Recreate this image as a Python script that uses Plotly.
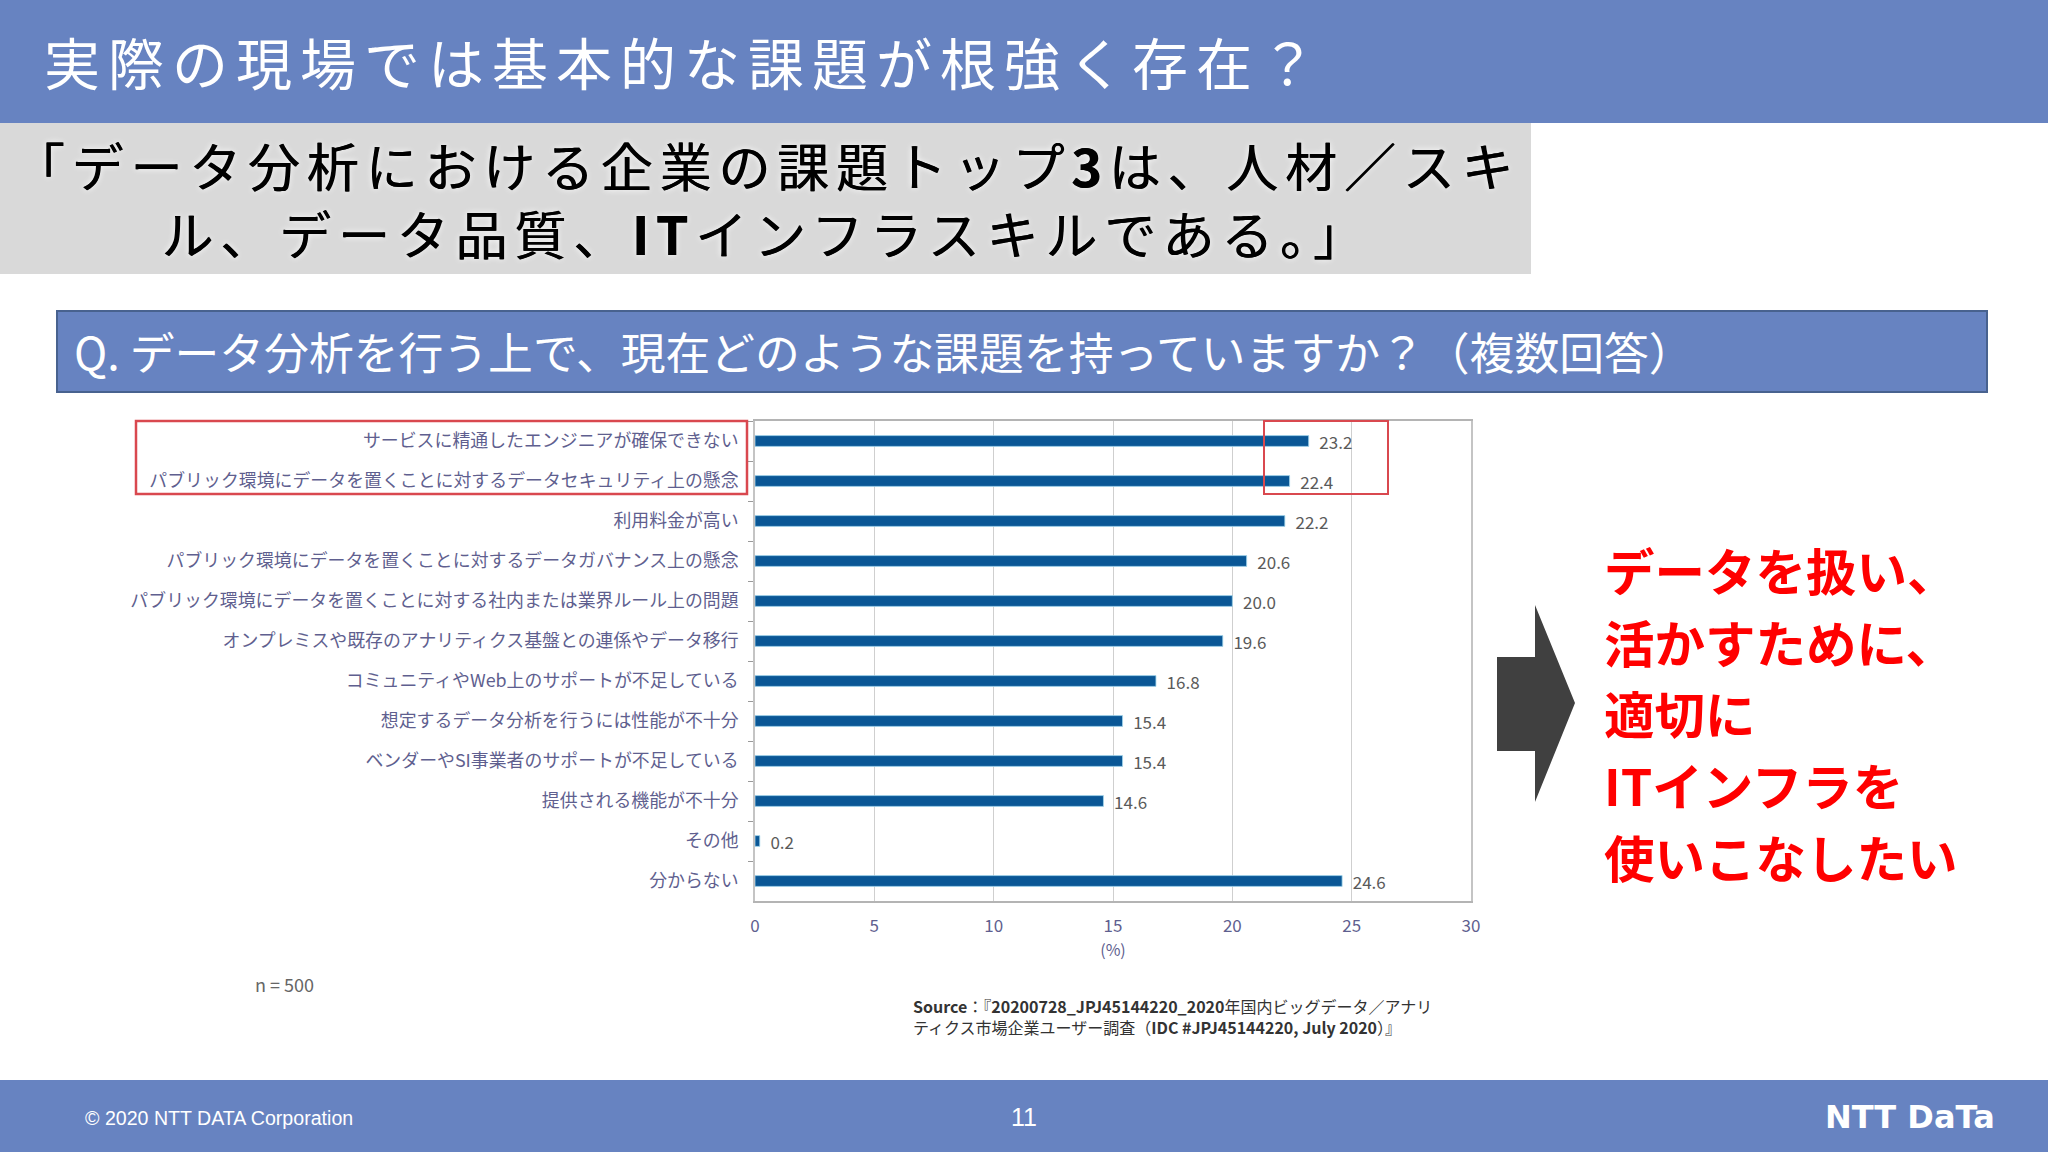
import plotly.graph_objects as go

W = 2048
H = 1152
JP = "Noto Sans CJK JP"

categories = [
    "サービスに精通したエンジニアが確保できない",
    "パブリック環境にデータを置くことに対するデータセキュリティ上の懸念",
    "利用料金が高い",
    "パブリック環境にデータを置くことに対するデータガバナンス上の懸念",
    "パブリック環境にデータを置くことに対する社内または業界ルール上の問題",
    "オンプレミスや既存のアナリティクス基盤との連係やデータ移行",
    "コミュニティやWeb上のサポートが不足している",
    "想定するデータ分析を行うには性能が不十分",
    "ベンダーやSI事業者のサポートが不足している",
    "提供される機能が不十分",
    "その他",
    "分からない",
]
values = [23.2, 22.4, 22.2, 20.6, 20.0, 19.6, 16.8, 15.4, 15.4, 14.6, 0.2, 24.6]
x_ticks = [0, 5, 10, 15, 20, 25, 30]

header_text = "実際の現場では基本的な課題が根強く存在？"
quote_lines = [
    "「データ分析における企業の課題トップ<b>3</b>は、人材／スキ",
    "ル、データ品質、<b>IT</b>インフラスキルである。」",
]
question_text = "Q. データ分析を行う上で、現在どのような課題を持っていますか？（複数回答）"
red_lines = ["データを扱い、", "活かすために、", "適切に", "ITインフラを", "使いこなしたい"]
source_lines = [
    "<b>Source</b>：『<b>20200728_JPJ45144220_2020</b>年国内ビッグデータ／アナリ",
    "ティクス市場企業ユーザー調査（<b>IDC #JPJ45144220, July 2020</b>）』",
]


def px_x(x):
    return x / W


def px_y(y):
    return 1 - y / H


def box(x0, y0, x1, y1, fill=None, line=None, width=0, layer="below"):
    return dict(type="rect", xref="paper", yref="paper", x0=px_x(x0), x1=px_x(x1),
                y0=px_y(y0), y1=px_y(y1), fillcolor=fill or "rgba(0,0,0,0)",
                line=dict(color=line or "rgba(0,0,0,0)", width=width), layer=layer)


def label(x, y, text, size, color, anchor="left", family=JP, shadow=None, align="left"):
    f = dict(family=family, size=size, color=color)
    if shadow:
        f["shadow"] = shadow
    return dict(xref="paper", yref="paper", x=px_x(x), y=px_y(y), text=text, showarrow=False,
                xanchor=anchor, yanchor="middle", font=f, align=align)


fig = go.Figure(go.Bar(
    x=values, y=categories, orientation="h",
    marker=dict(color="#0a5796", line=dict(color="#a5d8ee", width=0.8)),
    texttemplate="\u00a0\u00a0%{x:.1f}", textposition="outside", cliponaxis=False,
    constraintext="none",
    textfont=dict(family=JP, size=17, color="#5a5a5a"),
))

shapes = [
    box(0, 0, W, 123, fill="#6783c1"),
    box(0, 123, 1531, 274, fill="#d9d9d9"),
    box(57, 311, 1987, 392, fill="#6783c1", line="#48628f", width=2),
    box(0, 1080, W, H, fill="#6783c1"),
    box(136, 421, 747, 494, line="#d9484f", width=2.5, layer="above"),
    box(1264, 421, 1388, 494, line="#d9484f", width=2, layer="above"),
    # block arrow
    dict(type="path", xref="paper", yref="paper", fillcolor="#404040", line=dict(width=0),
         path="M {} {} L {} {} L {} {} L {} {} L {} {} L {} {} L {} {} Z".format(
             px_x(1497), px_y(657), px_x(1535), px_y(657), px_x(1535), px_y(605),
             px_x(1575), px_y(703), px_x(1535), px_y(802), px_x(1535), px_y(751),
             px_x(1497), px_y(751))),
]

notes = [
    label(42, 61, header_text, 56, "white"),
    label(766, 198, "<br>".join(quote_lines), 52, "black", anchor="center", align="center",
          shadow="0.7px 0 0 black, 0 0 6px white"),
    label(72, 350, question_text, 44.8, "white"),
    label(253, 984, "n = 500", 18, "#666666"),
    label(911, 1006, source_lines[0], 16, "#333333"),
    label(911, 1027, source_lines[1], 16, "#333333"),
    label(83, 1118, "© 2020 NTT DATA Corporation", 19.6, "white", family="Liberation Sans"),
    label(1024, 1117, "11", 25, "white", anchor="center", family="Liberation Sans"),
    label(1997, 1117, "<b>NTT DaTa</b>", 32, "white", anchor="right", family="DejaVu Sans"),
]
for i, line in enumerate(red_lines):
    notes.append(label(1602, 569 + i * 71.7, "<b>" + line + "</b>", 50.5, "#ff0000"))

fig.update_layout(
    width=W, height=H, margin=dict(l=0, r=0, t=0, b=0, autoexpand=False),
    paper_bgcolor="white", plot_bgcolor="white", showlegend=False,
    bargap=0.73, shapes=shapes, annotations=notes,
    xaxis=dict(domain=[px_x(755), px_x(1471)], range=[0, 30], tickvals=x_ticks,
               showgrid=True, gridcolor="#cfcfcf", gridwidth=1, zeroline=False,
               showline=True, mirror=True, linecolor="#b4b4b4", linewidth=2,
               ticks="outside", ticklen=9, tickcolor="rgba(0,0,0,0)",
               tickfont=dict(family=JP, size=17, color="#5f5f8f"),
               title=dict(text="(%)", font=dict(family=JP, size=16, color="#5f5f8f"), standoff=4)),
    yaxis=dict(domain=[px_y(901), px_y(421)], autorange="reversed", type="category",
               showline=True, mirror=True, linecolor="#c4c4c4", linewidth=1.5, showgrid=False, zeroline=False,
               ticks="outside", ticklen=5, tickcolor="#9a9a9a", tickson="boundaries",
               ticklabelstandoff=11, tickfont=dict(family=JP, size=17.9, color="#5f5f8f")),
)

# letter spacing on the slide headings, plotly has no option for it
spacing_js = """
document.body.style.margin = 0;
document.querySelectorAll('.annotation-text').forEach(function (t) {
    var s = t.textContent;
    if (s.indexOf('実際の') === 0) t.style.letterSpacing = '8px';
    if (s.indexOf('「データ') === 0) t.style.letterSpacing = '6.8px';
});
"""
fig.write_html("out.html", post_script=spacing_js, config=dict(displayModeBar=False))
